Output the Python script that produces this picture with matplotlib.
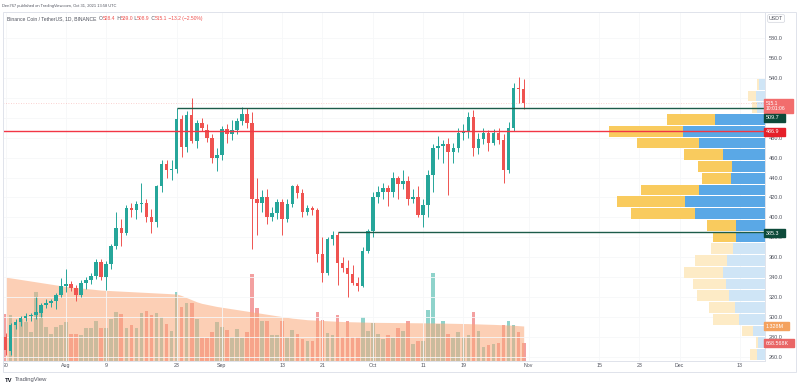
import matplotlib
matplotlib.use('Agg')
import matplotlib.pyplot as plt
from matplotlib.patches import Rectangle

plt.rcParams['font.family'] = ['Liberation Sans', 'DejaVu Sans']

# BNB/USDT daily candles, day 0 = Jul 20 2021 ... day 103 = Oct 31 2021
opens = [280, 266, 292, 295, 299, 301, 302, 304, 312, 314, 316, 322, 331, 333, 329, 322, 334, 337, 341, 355,
         340, 353, 371, 389, 384, 409, 407, 413, 414, 400, 395, 431, 454, 448, 449, 499, 471, 503, 477, 495,
         488, 480, 460, 463, 489, 484, 488, 497, 504, 495, 418, 414, 420, 400, 404, 415, 398, 413, 431, 424,
         405, 409, 407, 363, 344, 378, 382, 354, 349, 343, 334, 331, 366, 386, 420, 425, 429, 425, 440, 434,
         437, 418, 420, 402, 412, 443, 470, 472, 474, 466, 470, 485, 487, 501, 470, 479, 485, 475, 485, 478,
         448, 490, 530, 528.4]
highs = [284, 294, 298, 301, 304, 304, 320, 314, 318, 318, 324, 339, 348, 336, 332, 337, 340, 344, 358, 358,
         356, 373, 405, 398, 412, 414, 416, 435, 418, 408, 433, 458, 458, 458, 510, 503, 507, 520, 498, 500,
         494, 484, 470, 492, 494, 498, 500, 511, 510, 506, 440, 427, 428, 410, 418, 418, 418, 433, 434, 428,
         412, 411, 409, 380, 380, 386, 385, 360, 357, 352, 340, 370, 388, 425, 432, 435, 433, 446, 442, 448,
         442, 428, 432, 418, 448, 474, 482, 478, 480, 475, 490, 494, 506, 508, 485, 490, 488, 489, 490, 484,
         496, 535, 541, 539.0]
lows = [262, 262, 288, 291, 296, 296, 298, 300, 309, 310, 308, 320, 325, 326, 316, 320, 328, 333, 338, 337,
        327, 348, 368, 371, 382, 400, 398, 405, 395, 384, 390, 425, 440, 438, 445, 461, 466, 475, 470, 487,
        476, 455, 447, 458, 475, 478, 484, 493, 490, 368, 382, 405, 393, 396, 398, 382, 395, 410, 419, 400,
        402, 402, 355, 335, 342, 372, 332, 345, 320, 332, 326, 330, 364, 380, 414, 418, 411, 420, 418, 428,
        412, 414, 400, 390, 400, 425, 459, 455, 422, 455, 466, 478, 480, 462, 464, 474, 467, 473, 474, 435,
        445, 487, 515, 508.9]
closes = [267, 292, 295, 299, 301, 302, 305, 312, 314, 316, 322, 331, 333, 329, 322, 334, 337, 341, 355, 340,
          353, 371, 389, 384, 409, 407, 413, 414, 400, 395, 431, 454, 448, 449, 499, 471, 503, 477, 495, 490,
          480, 460, 463, 489, 484, 488, 497, 504, 495, 418, 414, 420, 400, 404, 415, 398, 413, 431, 424, 405,
          409, 407, 363, 344, 378, 382, 354, 349, 343, 334, 331, 366, 386, 420, 425, 429, 425, 440, 434, 437,
          418, 420, 402, 412, 443, 470, 472, 474, 466, 470, 485, 487, 501, 470, 479, 485, 475, 485, 478, 448,
          490, 530, 528.4, 515.1]
# volume in thousands of BNB
volumes = [1797, 1733, 1412, 1604, 1476, 1091, 2631, 1925, 1283, 1027, 1283, 1348, 1476, 1027, 1027, 963,
           1245, 1245, 1540, 1258, 1258, 1604, 1861, 1797, 1258, 1386, 1245, 1822, 1925, 1733, 1822, 1668,
           1412, 1155, 2631, 2079, 2207, 2207, 1604, 873, 873, 1091, 1476, 1283, 1181, 924, 1219, 873, 1091,
           3337, 2028, 1514, 1514, 963, 1001, 1514, 924, 1181, 1027, 834, 770, 744, 1861, 1566, 1052, 963,
           1733, 898, 1540, 924, 898, 1694, 1155, 1437, 1027, 834, 963, 873, 1245, 1155, 1514, 642, 744, 744,
           1951, 3362, 1412, 1514, 1027, 873, 1091, 898, 963, 1861, 1129, 513, 578, 642, 693, 1348, 1514,
           1386, 1091, 668.568]
vol_ma = [3210, 3180, 3150, 3120, 3090, 3060, 3030, 3000, 2970, 2940, 2910, 2880, 2850, 2830, 2810, 2790,
          2770, 2750, 2730, 2710, 2700, 2690, 2680, 2670, 2660, 2650, 2640, 2630, 2620, 2610, 2600, 2590,
          2580, 2570, 2560, 2500, 2420, 2340, 2260, 2200, 2160, 2120, 2080, 2050, 2020, 1990, 1960, 1930,
          1900, 1870, 1840, 1810, 1780, 1750, 1720, 1690, 1660, 1630, 1610, 1590, 1570, 1560, 1550, 1540,
          1530, 1520, 1510, 1500, 1495, 1490, 1485, 1480, 1475, 1470, 1468, 1466, 1464, 1462, 1460, 1458,
          1456, 1454, 1452, 1450, 1448, 1446, 1444, 1440, 1436, 1432, 1428, 1424, 1420, 1414, 1408, 1402,
          1396, 1390, 1382, 1374, 1366, 1356, 1342, 1328]

x_ticks = [0, 12, 20, 34, 43, 55, 63, 73, 83, 91, 104, 118, 126, 134, 146]
x_labels = ['20', 'Aug', '9', '23', 'Sep', '13', '21', 'Oct', '11', '19', 'Nov', '15', '23', 'Dec', '13']
price_ticks = list(range(260, 600, 20))
hidden_ticks = [500, 520]   # covered by the price tags

level_top = 509.7   # from Aug 23
level_mid = 486.9   # full width
level_low = 385.3   # from Sep 24
last_price = 515.1

# visible range volume profile, 24 rows from bottom
vp_low, vp_row = 256.5, 11.79
vp_up = [8.3, 6.7, 12.3, 25.7, 30, 35.7, 39.3, 42.3, 38.3, 32.3, 29, 29, 70, 80, 66, 34.3, 33.3, 41.7,
         66, 82.3, 50, 8.3, 9, 5.7]
vp_down = [6.7, 2.6, 10.4, 26, 25.7, 32.6, 32.4, 38.7, 31.7, 21.7, 23.3, 29.3, 64, 67.7, 58, 29, 33.4,
           39, 62.3, 73.7, 47.7, 5, 7.7, 2.6]
value_area = range(10, 21)

UP, DOWN = '#26a69a', '#ef5350'
W, H = 800, 388


def fx(px):
    return px / W


def fy(py):
    return 1 - py / H


fig = plt.figure(figsize=(8, 3.88), dpi=100)
fig.patch.set_facecolor('white')

ax_l, ax_r, ax_t, ax_b = 3, 765, 12, 360.5
ax = fig.add_axes([fx(ax_l), fy(ax_b), (ax_r - ax_l) / W, (ax_b - ax_t) / H])
vax = ax.twinx()
ax.set_zorder(vax.get_zorder() + 1)
ax.patch.set_visible(False)

x0 = (ax_l - 5.6) / 5.03
x1 = (ax_r - 5.6) / 5.03
ax.set_xlim(x0, x1)
ax.set_ylim(256.5, 606.0)
vax.set_ylim(0, (ax_b - ax_t) * 38.5)
vax.set_yticks([])

days = list(range(len(opens)))

# volume + its moving average
vcol = ['#8fd3cb' if c >= o else '#f3a0a0' for o, c in zip(opens, closes)]
vax.bar(days, volumes, width=0.72, color=vcol, zorder=1)
vax.fill_between(days, vol_ma, 0, color='#fba878', alpha=0.55, lw=0, zorder=2)

# candles
for d in days:
    o, h, l, c = opens[d], highs[d], lows[d], closes[d]
    col = UP if c >= o else DOWN
    ax.vlines(d, l, h, color=col, lw=0.7, zorder=4)
    body = max(abs(c - o), 0.9)
    ax.bar(d, body, bottom=min(o, c), width=0.7, color=col, zorder=5)

# volume profile
yax = ax.get_yaxis_transform()
vmax = max(u + dn for u, dn in zip(vp_up, vp_down))
span = 156 / (ax_r - ax_l)
for i, (u, dn) in enumerate(zip(vp_up, vp_down)):
    dark = i in value_area
    cu = '#5aa8e6' if dark else '#cfe5f6'
    cd = '#f9cb5e' if dark else '#fdebc6'
    yb = vp_low + i * vp_row + 0.5
    wu = u / vmax * span
    wd = dn / vmax * span
    ax.barh(yb, wu, left=1 - wu, height=vp_row - 1.0, align='edge', color=cu, transform=yax, zorder=3)
    ax.barh(yb, wd, left=1 - wu - wd, height=vp_row - 1.0, align='edge', color=cd, transform=yax, zorder=3)

# levels
ax.hlines(level_top, 34, x1, color='#1d5c4a', lw=1.0, zorder=6)
ax.axhline(level_mid, color='#f23645', lw=1.0, zorder=6)
ax.hlines(level_low, 66, x1, color='#1d5c4a', lw=1.0, zorder=6)
ax.axhline(last_price, color='#ef5350', lw=0.6, ls=(0, (1, 2)), alpha=0.35, zorder=6)

# axes styling
ax.set_xticks(x_ticks)
ax.set_xticklabels(x_labels)
ax.yaxis.tick_right()
ax.set_yticks(price_ticks)
ax.set_yticklabels(['' if p in hidden_ticks else '%.1f' % p for p in price_ticks])
ax.tick_params(axis='x', length=0, pad=2.0, labelsize=3.8, labelcolor='#50535e')
ax.tick_params(axis='y', length=0, pad=2.5, labelsize=4.0, labelcolor='#50535e')
ax.grid(True, color='#f6f7f9', lw=0.6)
for sp in ['top', 'left']:
    ax.spines[sp].set_visible(False)
    vax.spines[sp].set_visible(False)
ax.spines['bottom'].set_color('#e0e3eb')
ax.spines['right'].set_color('#e0e3eb')
ax.spines['bottom'].set_linewidth(0.7)
ax.spines['right'].set_linewidth(0.7)
vax.spines['bottom'].set_visible(False)
vax.spines['right'].set_visible(False)

# outer frame
fig.patches.append(Rectangle((fx(3), fy(372)), (796 - 3) / W, (372 - 12) / H, transform=fig.transFigure,
                             fill=False, ec='#e0e3eb', lw=0.7))


# price axis tags
def tag(y0, y1, x1p, text, bg, size=3.9):
    fig.patches.append(Rectangle((fx(764), fy(y1)), (x1p - 764) / W, (y1 - y0) / H,
                                 transform=fig.transFigure, color=bg, zorder=10))
    fig.text(fx(766), fy((y0 + y1) / 2), text, color='white', fontsize=size, va='center', ha='left',
             zorder=11, linespacing=1.0)


tag(99.3, 113.3, 793, '515.1\n10:01:06', '#f26d6d', 3.6)
tag(114, 121.5, 785, '509.7', '#0d4a3a')
tag(128, 135.5, 785, '486.9', '#e5202a')
tag(229.3, 236.8, 785, '385.3', '#0d4a3a')
tag(322.3, 329.8, 789, '1.328M', '#f4a25e')
tag(339.3, 346.8, 794, '668.568K', '#e96565')

fig.text(fx(769), fy(18.5), 'USDT', fontsize=3.8, color='#50535e', va='center', ha='left',
         bbox=dict(boxstyle='round,pad=0.25', fc='white', ec='#d1d4dc', lw=0.5))

# header texts
fig.text(fx(2), fy(6), 'Den767 published on TradingView.com, Oct 31, 2021 13:58 UTC', fontsize=2.9,
         color='#50535e', va='center', ha='left')

renderer = fig.canvas.get_renderer()
parts = [('Binance Coin / TetherUS, 1D, BINANCE  ', '#50535e'), ('O', '#50535e'), ('528.4', DOWN),
         (' H', '#50535e'), ('539.0', DOWN), (' L', '#50535e'), ('508.9', DOWN), (' C', '#50535e'),
         ('515.1', DOWN), (' \u221213.2 (\u22122.50%)', DOWN)]
xp = 7
for s, c in parts:
    t = fig.text(fx(xp), fy(18.5), s, fontsize=3.6, color=c, va='center', ha='left')
    xp += t.get_window_extent(renderer=renderer).width

# footer logo
fig.text(fx(5), fy(380), 'TV', fontsize=4.2, color='#131722', fontweight='bold', va='center', ha='left')
fig.text(fx(15), fy(380), 'TradingView', fontsize=4.2, color='#50535e', va='center', ha='left')

fig.savefig('out.png', dpi=100)
